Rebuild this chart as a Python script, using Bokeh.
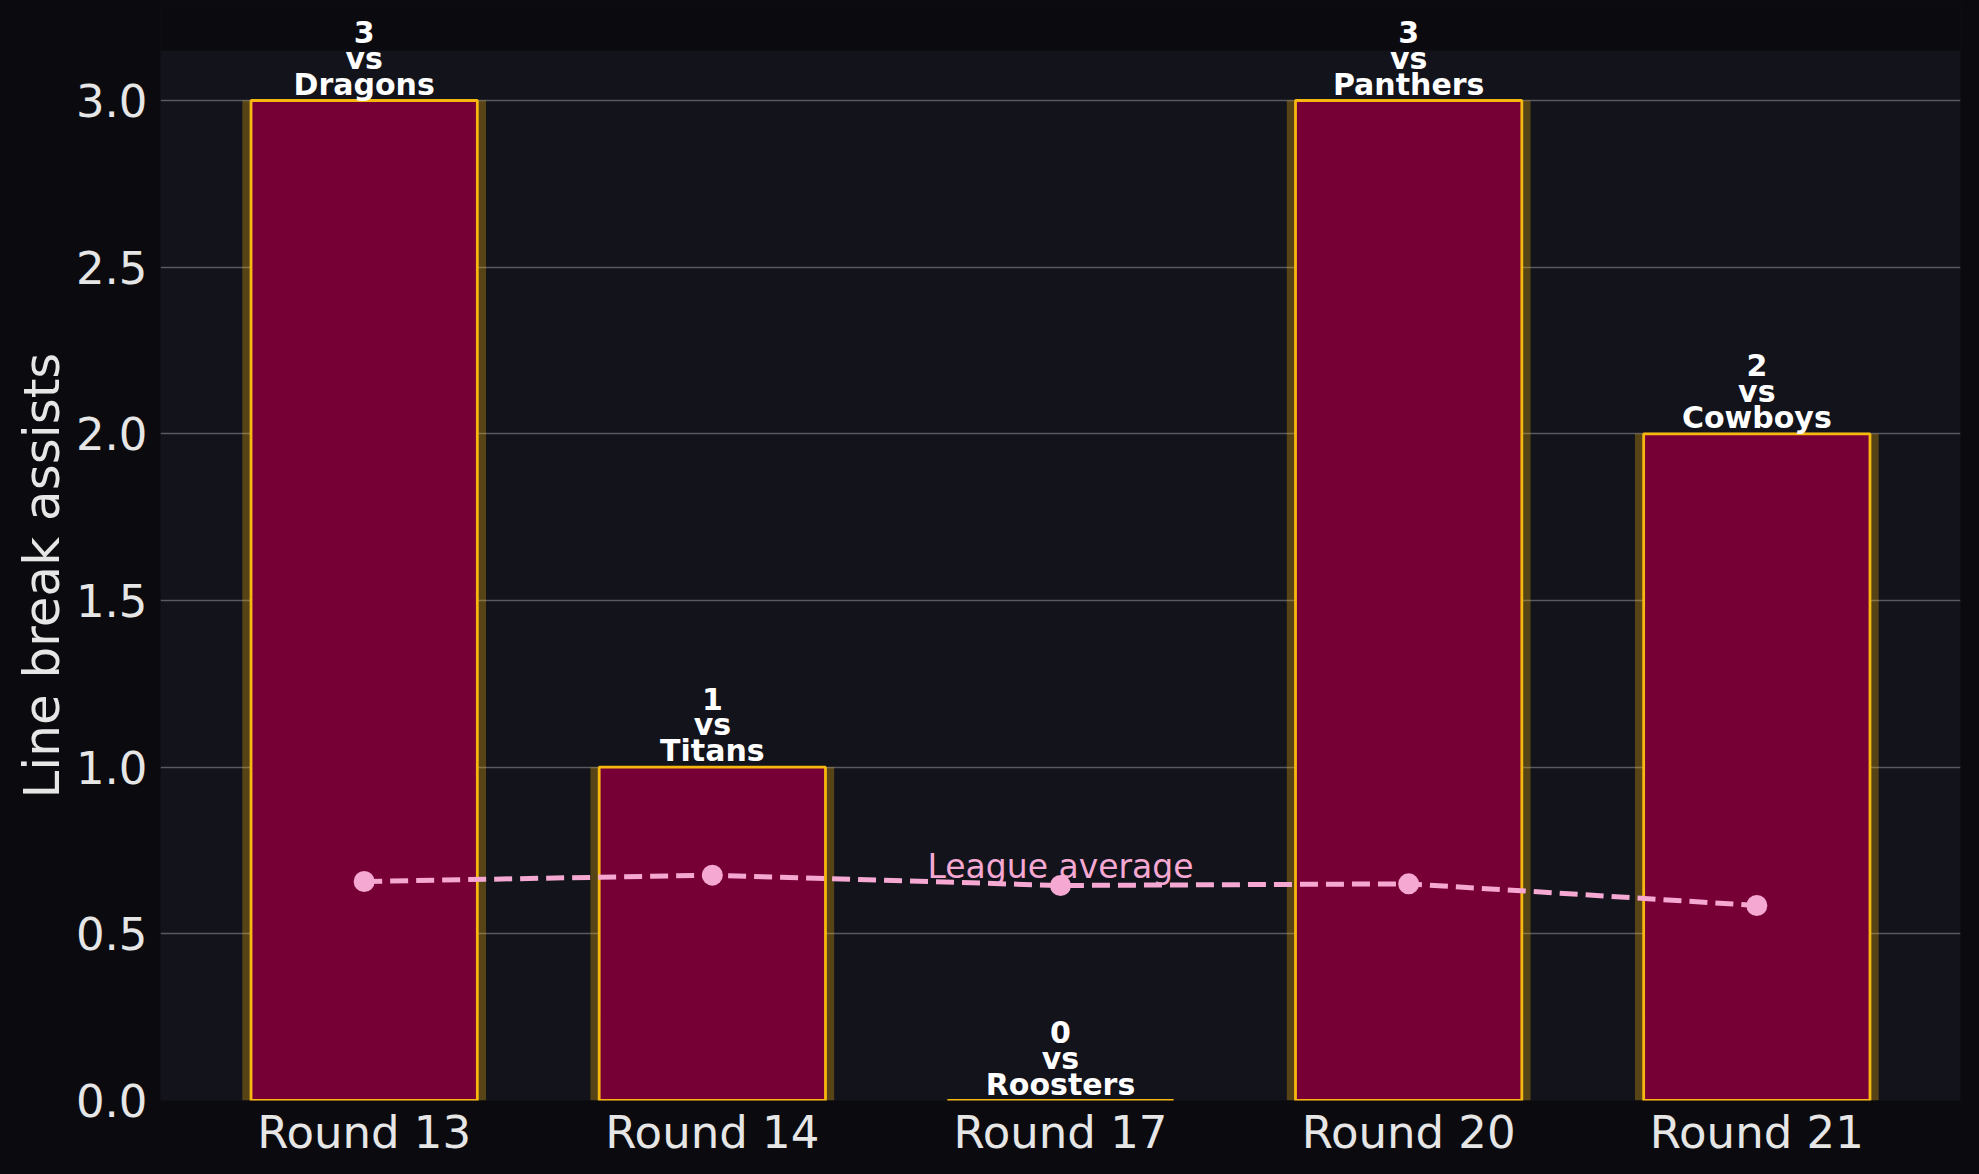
from bokeh.plotting import figure
from bokeh.models import Range1d, FixedTicker, ColumnDataSource, Label, BoxAnnotation, Title
from bokeh.core.properties import value
from bokeh.embed import file_html
from bokeh.resources import INLINE

rounds = ["Round 13", "Round 14", "Round 17", "Round 20", "Round 21"]
opponents = ["Dragons", "Titans", "Roosters", "Panthers", "Cowboys"]
assists = [3, 1, 0, 3, 2]
league_avg = [0.657, 0.676, 0.645, 0.650, 0.585]
y_ticks = [0.0, 0.5, 1.0, 1.5, 2.0, 2.5, 3.0]
y_label = "Line break assists"
panel_top = 3.15

BG = "#0b0b0f"
PANEL = "#12131b"
BAR = "#760036"
GOLD = "#f6b70f"
PINK = "#f5a8d2"
TXT = "#e6e6e6"
FONT = "DejaVu Sans"

idx = list(range(len(rounds)))
src = ColumnDataSource(dict(x=idx, top=assists, avg=league_avg))

# frame extends to the top of the canvas so that labels above the panel are not clipped
p = figure(width=1979, height=1174, output_backend="svg", toolbar_location=None,
           x_range=Range1d(-0.585, 4.585), y_range=Range1d(0, 3.30),
           min_border_left=160, min_border_right=19, min_border_top=0, min_border_bottom=74)
p.background_fill_color = PANEL
p.border_fill_color = BG
p.outline_line_color = None
p.add_layout(BoxAnnotation(bottom=panel_top, fill_color=BG, fill_alpha=1.0,
                           line_color=None, level="underlay"))

# glow behind bars
p.vbar(x="x", top="top", bottom=0, width=0.70, source=src,
       fill_color=GOLD, fill_alpha=0.3, line_color=None)
# bars
p.vbar(x="x", top="top", bottom=0, width=0.65, source=src,
       fill_color=BAR, line_color=GOLD, line_width=2.8)

# league average line
p.line(x="x", y="avg", source=src, line_color=PINK, line_width=5, line_dash="18 8")
p.scatter(x="x", y="avg", source=src, size=21, fill_color=PINK, line_color=None)
p.text(x=[2], y=[league_avg[2]], text=["League average"], text_color=PINK,
       text_font=value(FONT), text_font_size="33px", text_align="center",
       text_baseline="middle", y_offset=-19)

# bar annotations
for i in idx:
    for txt, off in ((opponents[i], 16.5), ("vs", 42.5), (str(assists[i]), 68.5)):
        p.add_layout(Label(x=i, y=assists[i], text=txt, text_color="#ffffff",
                           text_font=FONT, text_font_style="bold", text_font_size="30px",
                           text_align="center", text_baseline="middle", y_offset=off))

# axes
p.xaxis.ticker = FixedTicker(ticks=idx)
p.xaxis.major_label_overrides = {i: r for i, r in enumerate(rounds)}
p.yaxis.ticker = FixedTicker(ticks=y_ticks)
p.yaxis.major_label_overrides = {t: f"{t:.1f}" for t in y_ticks}
for ax in (p.xaxis[0], p.yaxis[0]):
    ax.axis_line_color = None
    ax.major_tick_line_color = None
    ax.minor_tick_line_color = None
    ax.major_tick_out = 0
    ax.major_tick_in = 0
    ax.major_label_text_font = FONT
    ax.major_label_text_font_size = "45px"
    ax.major_label_text_color = TXT
p.xaxis.major_label_standoff = 5
p.yaxis.major_label_standoff = 13

# y-axis title, positioned along the visible panel (not the extended frame)
p.add_layout(Title(text=y_label, align="left", offset=302, standoff=4,
                   text_font=FONT, text_font_size="50px", text_font_style="normal",
                   text_color=TXT), "left")

p.xgrid.grid_line_color = None
p.ygrid.grid_line_color = "#ffffff"
p.ygrid.grid_line_alpha = 0.3
p.ygrid.grid_line_width = 1.6

html = file_html(p, INLINE)
html = html.replace("<head>", "<head><style>html,body{background:%s;}</style>" % BG, 1)
open("out.html", "w").write(html)
